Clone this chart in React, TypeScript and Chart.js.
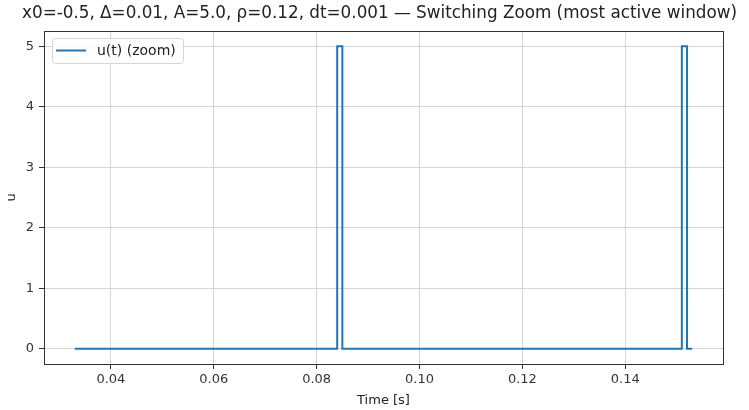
import React, { useEffect, useRef } from "react";
import { Chart, registerables } from "chart.js";

Chart.register(...registerables);

const titleText = "x0=-0.5, Δ=0.01, A=5.0, ρ=0.12, dt=0.001 — Switching Zoom (most active window)";
const seriesLabel = "u(t) (zoom)";
// switching breakpoints (step-post): value holds until the next time
const times = [0.033, 0.084, 0.085, 0.151, 0.152, 0.153];
const uValues = [0, 5, 0, 5, 0, 0];
const xTicks = [0.04, 0.06, 0.08, 0.1, 0.12, 0.14];
const yTicks = [0, 1, 2, 3, 4, 5];

const FONT = "'DejaVu Sans', sans-serif";
const LINE_COLOR = "#1f77b4";

export default function App() {
  const ref = useRef<HTMLCanvasElement | null>(null);

  useEffect(() => {
    const canvas = ref.current;
    if (!canvas) return;

    const framePlugin = {
      id: "frameAndLegend",
      afterDraw(chart: any) {
        const { ctx, chartArea } = chart;
        ctx.save();
        // frame
        ctx.strokeStyle = "#333";
        ctx.lineWidth = 1;
        ctx.strokeRect(
          Math.round(chartArea.left) + 0.5,
          Math.round(chartArea.top) + 0.5,
          Math.round(chartArea.right - chartArea.left),
          Math.round(chartArea.bottom - chartArea.top)
        );
        // title
        ctx.fillStyle = "#222";
        ctx.font = `16.8px ${FONT}`;
        ctx.textAlign = "center";
        ctx.textBaseline = "middle";
        ctx.fillText(titleText, (chartArea.left + chartArea.right) / 2 - 4, 14);
        // legend
        const lx = chartArea.left + 8;
        const ly = chartArea.top + 7;
        const lw = 131;
        const lh = 25;
        ctx.fillStyle = "rgba(255,255,255,0.8)";
        ctx.strokeStyle = "#d6d6d6";
        ctx.lineWidth = 1;
        ctx.beginPath();
        const r = 3;
        ctx.moveTo(lx + r + 0.5, ly + 0.5);
        ctx.arcTo(lx + lw + 0.5, ly + 0.5, lx + lw + 0.5, ly + lh + 0.5, r);
        ctx.arcTo(lx + lw + 0.5, ly + lh + 0.5, lx + 0.5, ly + lh + 0.5, r);
        ctx.arcTo(lx + 0.5, ly + lh + 0.5, lx + 0.5, ly + 0.5, r);
        ctx.arcTo(lx + 0.5, ly + 0.5, lx + lw + 0.5, ly + 0.5, r);
        ctx.closePath();
        ctx.fill();
        ctx.stroke();
        ctx.strokeStyle = LINE_COLOR;
        ctx.lineWidth = 2;
        ctx.beginPath();
        ctx.moveTo(lx + 4, ly + 12.5);
        ctx.lineTo(lx + 34, ly + 12.5);
        ctx.stroke();
        ctx.fillStyle = "#222";
        ctx.font = `14px ${FONT}`;
        ctx.textAlign = "left";
        ctx.textBaseline = "middle";
        ctx.fillText(chart.data.datasets[0].label, lx + 45, ly + 13);
        ctx.restore();
      },
    };

    const chart = new Chart(canvas, {
      type: "line",
      data: {
        datasets: [
          {
            label: seriesLabel,
            data: times.map((t, i) => ({ x: t, y: uValues[i] })),
            borderColor: LINE_COLOR,
            backgroundColor: LINE_COLOR,
            borderWidth: 2,
            pointRadius: 0,
            stepped: "before",
            fill: false,
          },
        ],
      },
      options: {
        animation: false,
        responsive: false,
        maintainAspectRatio: false,
        layout: { padding: { left: 0, top: 31, right: 26, bottom: 0 } },
        plugins: {
          legend: { display: false },
          title: { display: false },
          tooltip: { enabled: false },
        },
        scales: {
          x: {
            type: "linear",
            min: 0.027,
            max: 0.159,
            afterBuildTicks: (scale: any) => {
              scale.ticks = xTicks.map((v) => ({ value: v }));
            },
            afterFit: (scale: any) => {
              scale.height = 46;
            },
            ticks: {
              color: "#333",
              font: { family: FONT, size: 13 },
              padding: 3,
              maxRotation: 0,
              callback: (v: any) => Number(v).toFixed(2),
            },
            grid: {
              color: "#d4d4d4",
              tickColor: "#333",
              tickLength: 5,
              lineWidth: 1,
            },
            border: { color: "#333" },
            title: {
              display: true,
              text: "Time [s]",
              color: "#222",
              font: { family: FONT, size: 13 },
              padding: { top: 0, bottom: 2 },
            },
          },
          y: {
            type: "linear",
            min: -0.25,
            max: 5.25,
            afterBuildTicks: (scale: any) => {
              scale.ticks = yTicks.map((v) => ({ value: v }));
            },
            afterFit: (scale: any) => {
              scale.width = 44;
            },
            ticks: {
              color: "#333",
              font: { family: FONT, size: 13 },
              padding: 5,
              callback: (v: any) => String(v),
            },
            grid: {
              color: "#d4d4d4",
              tickColor: "#333",
              tickLength: 5,
              lineWidth: 1,
            },
            border: { color: "#333" },
            title: {
              display: true,
              text: "u",
              color: "#222",
              font: { family: FONT, size: 13 },
              padding: { top: 4, bottom: 0 },
            },
          },
        },
      },
      plugins: [framePlugin],
    });

    return () => chart.destroy();
  }, []);

  return (
    <div style={{ position: "absolute", left: 0, top: 0, width: 749, height: 410, background: "#fff" }}>
      <canvas ref={ref} width={749} height={410} style={{ width: 749, height: 410, display: "block" }} />
    </div>
  );
}
